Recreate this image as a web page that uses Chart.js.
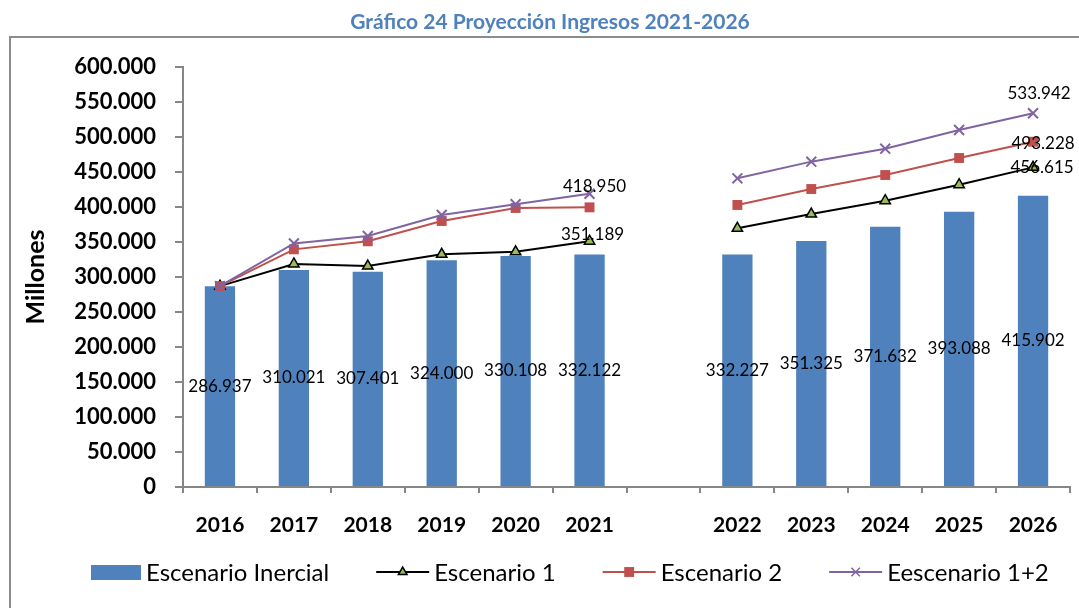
<!DOCTYPE html>
<html>
<head>
<meta charset="utf-8">
<script src="https://cdn.jsdelivr.net/npm/chart.js@4.4.1/dist/chart.umd.min.js"></script>
<style>
html,body{margin:0;padding:0;background:#fff;}
#wrap{width:1079px;height:608px;position:relative;}
</style>
</head>
<body>
<div id="wrap"><canvas id="c" width="1079" height="608"></canvas></div>
<script>
const chartTitle = 'Gráfico 24 Proyección Ingresos 2021-2026';
const yTitle = 'Millones';
const categories = ['2016','2017','2018','2019','2020','2021','','2022','2023','2024','2025','2026'];
const seriesNames = ['Escenario Inercial','Escenario 1','Escenario 2','Eescenario 1+2'];
const inercial = [286937,310021,307401,324000,330108,332122,null,332227,351325,371632,393088,415902];
const esc1 = [286937,318600,315700,332400,336000,351189,null,369500,390000,409000,431900,456615];
const esc2 = [286937,339500,351000,380000,398600,399500,null,402900,425700,445700,470000,493228];
const esc12 = [286937,348000,358600,388600,404000,418950,null,441000,464800,483300,510000,533942];
const yMin = 0, yMax = 600000, yStep = 50000;
// which line points carry a value label (by category index)
const labelledEsc1 = [5, 11];
const labelledEsc2 = [11];
const labelledEsc12 = [5, 11];

const FONT = 'Lato, "Open Sans", sans-serif';
function fmt(v){
  const s = Math.round(v).toString();
  return s.replace(/\B(?=(\d{3})+(?!\d))/g, '.');
}

function drawMarker(ctx, style, x, y, r){
  ctx.save();
  if (style === 'triangle') {
    ctx.beginPath();
    ctx.moveTo(x, y - r);
    ctx.lineTo(x + r*0.866, y + r*0.5);
    ctx.lineTo(x - r*0.866, y + r*0.5);
    ctx.closePath();
    ctx.fill(); ctx.stroke();
  } else if (style === 'rect') {
    const s = r*0.707;
    ctx.fillRect(x - s, y - s, 2*s, 2*s);
  } else if (style === 'crossRot') {
    const s = r*0.707;
    ctx.beginPath();
    ctx.moveTo(x - s, y - s); ctx.lineTo(x + s, y + s);
    ctx.moveTo(x + s, y - s); ctx.lineTo(x - s, y + s);
    ctx.stroke();
  }
  ctx.restore();
}

const framePlugin = {
  id: 'frame',
  beforeDraw(chart){
    const ctx = chart.ctx;
    ctx.save();
    ctx.fillStyle = '#fff';
    ctx.fillRect(0,0,chart.width,chart.height);
    ctx.strokeStyle = '#8c8c8c';
    ctx.lineWidth = 2;
    ctx.strokeRect(10, 37, 2000, 2000);
    // title
    ctx.fillStyle = '#4F81BD';
    ctx.font = 'bold 21px ' + FONT;
    ctx.textAlign = 'center';
    ctx.textBaseline = 'middle';
    ctx.fillText(chartTitle, 550, 22);
    // y title
    ctx.save();
    ctx.translate(36, 277);
    ctx.rotate(-Math.PI/2);
    ctx.fillStyle = '#000';
    ctx.font = 'bold 25px ' + FONT;
    ctx.fillText(yTitle, 0, 0);
    ctx.restore();
    ctx.restore();
  }
};

const labelPlugin = {
  id: 'vlabels',
  afterDatasetsDraw(chart, args, opts){
    const ctx = chart.ctx;
    ctx.save();
    ctx.fillStyle = '#000';
    ctx.font = '17px ' + FONT;
    ctx.textAlign = 'center';
    ctx.textBaseline = 'middle';
    const barMeta = chart.getDatasetMeta(0);
    barMeta.data.forEach((el, i) => {
      const v = chart.data.datasets[0].data[i];
      if (v == null) return;
      ctx.fillText(fmt(v), el.x, (el.y + el.base) / 2);
    });
    (opts.lines || []).forEach(spec => {
      const meta = chart.getDatasetMeta(spec.ds);
      spec.points.forEach((idx, k) => {
        const el = meta.data[idx];
        const v = chart.data.datasets[spec.ds].data[idx];
        const off = spec.offsets[k];
        ctx.fillText(fmt(v), el.x + off[0], el.y + off[1]);
      });
    });
    ctx.restore();
  }
};

const legendPlugin = {
  id: 'customLegend',
  afterDraw(chart){
    const ctx = chart.ctx;
    ctx.save();
    ctx.font = '24px ' + FONT;
    ctx.textBaseline = 'middle';
    ctx.textAlign = 'left';
    const y = 572;
    let x = 91;
    const ds = chart.data.datasets;
    ds.forEach((d, i) => {
      if (i === 0) {
        ctx.fillStyle = d.backgroundColor;
        ctx.fillRect(x, y - 7, 50, 15);
        x += 55;
      } else {
        ctx.strokeStyle = d.borderColor;
        ctx.lineWidth = 2;
        ctx.beginPath();
        ctx.moveTo(x, y); ctx.lineTo(x + 53, y); ctx.stroke();
        ctx.fillStyle = d.pointBackgroundColor;
        ctx.strokeStyle = d.pointBorderColor;
        ctx.lineWidth = 1.5;
        drawMarker(ctx, d.pointStyle, x + 26.5, y, d.legendRadius);
        x += 58;
      }
      ctx.fillStyle = '#000';
      ctx.fillText(d.label, x, y + 1);
      x += ctx.measureText(d.label).width + 47;
    });
    ctx.restore();
  }
};

const cfg = {
  type: 'bar',
  data: {
    labels: categories,
    datasets: [
      {
        type: 'bar', label: seriesNames[0], data: inercial,
        backgroundColor: '#4F81BD', borderWidth: 0,
        barPercentage: 0.41, categoryPercentage: 1.0, order: 4
      },
      {
        type: 'line', label: seriesNames[1], data: esc1,
        borderColor: '#000000', borderWidth: 2,
        pointStyle: 'triangle', pointRadius: 6, pointBackgroundColor: '#9BBB59',
        pointBorderColor: '#000000', pointBorderWidth: 1.5, legendRadius: 5,
        tension: 0, spanGaps: false, order: 3
      },
      {
        type: 'line', label: seriesNames[2], data: esc2,
        borderColor: '#C0504D', borderWidth: 2,
        pointStyle: 'rect', pointRadius: 7, pointBackgroundColor: '#C0504D',
        pointBorderColor: '#C0504D', pointBorderWidth: 0, legendRadius: 7,
        tension: 0, spanGaps: false, order: 2
      },
      {
        type: 'line', label: seriesNames[3], data: esc12,
        borderColor: '#8064A2', borderWidth: 2,
        pointStyle: 'crossRot', pointRadius: 7, pointBackgroundColor: '#8064A2',
        pointBorderColor: '#8064A2', pointBorderWidth: 2, legendRadius: 6,
        tension: 0, spanGaps: false, order: 1
      }
    ]
  },
  options: {
    responsive: false,
    animation: false,
    events: [],
    layout: { padding: { top: 67, left: 0, right: 0, bottom: 0 } },
    plugins: {
      legend: { display: false },
      title: { display: false },
      tooltip: { enabled: false },
      vlabels: {
        lines: [
          { ds: 1, points: labelledEsc1, offsets: [[3, -7], [9, 0]] },
          { ds: 2, points: labelledEsc2, offsets: [[10, 2]] },
          { ds: 3, points: labelledEsc12, offsets: [[5, -7], [6, -20]] }
        ]
      }
    },
    scales: {
      x: {
        offset: true,
        grid: { display: true, drawOnChartArea: false, drawTicks: true, tickLength: 6, color: '#868686', lineWidth: 2, offset: true },
        border: { display: true, color: '#868686', width: 2 },
        ticks: { color: '#000', font: { family: FONT, size: 21, weight: 'bold' }, padding: 20, maxRotation: 0, autoSkip: false },
        afterFit(scale){ scale.height = 121; }
      },
      y: {
        min: yMin, max: yMax,
        grid: { display: true, drawOnChartArea: false, drawTicks: true, tickLength: 8, color: '#868686', lineWidth: 2 },
        border: { display: true, color: '#868686', width: 2 },
        ticks: { stepSize: yStep, color: '#000', font: { family: FONT, size: 22, weight: 'bold' }, padding: 19,
          callback: (v) => fmt(v) },
        afterFit(scale){ scale.width = 183; }
      }
    }
  },
  plugins: [framePlugin, labelPlugin, legendPlugin]
};
new Chart(document.getElementById('c'), cfg);
</script>
</body>
</html>
